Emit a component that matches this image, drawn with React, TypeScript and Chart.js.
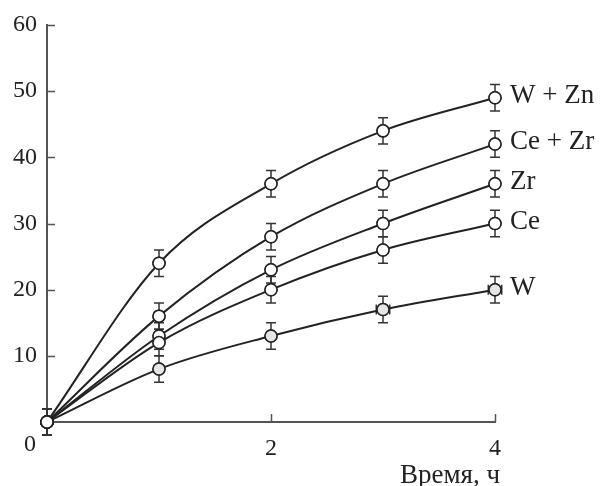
import React, { useEffect, useRef } from "react";
import { Chart, registerables } from "chart.js";

Chart.register(...registerables);

const xValues = [0, 1, 2, 3, 4];
const seriesNames = ["W + Zn", "Ce + Zr", "Zr", "Ce", "W"];
const wZn = [0, 24, 36, 44, 49];
const ceZr = [0, 16, 28, 36, 42];
const zr = [0, 13, 23, 30, 36];
const ce = [0, 12, 20, 26, 30];
const w = [0, 8, 13, 17, 20];
const errWZn = [2, 2, 2, 2, 2];
const errCeZr = [2, 2, 2, 2, 2];
const errZr = [2, 2, 2, 2, 2];
const errCe = [2, 2, 2, 2, 2];
const errW = [2, 2, 2, 2, 2];
const xErrW = [0, 0, 0, 0.06, 0.06];
const noXErr = [0, 0, 0, 0, 0];
const yTicks = [10, 20, 30, 40, 50, 60];
const xTicks = [2, 4];
const xTitle = "Время, ч";
const originLabel = "0";

const FONT = '"Liberation Serif", "Times New Roman", serif';
const INK = "#222";
const AXIS = "#555";

const seriesValues = [wZn, ceZr, zr, ce, w];
const seriesErr = [errWZn, errCeZr, errZr, errCe, errW];
const seriesXErr = [noXErr, noXErr, noXErr, noXErr, xErrW];
const seriesFill = ["#fff", "#fff", "#fff", "#fff", "#e6e6e6"];

const decorPlugin = {
  id: "decor",
  beforeDatasetsDraw(chart: any) {
    const ctx = chart.ctx;
    const xs = chart.scales.x;
    const ys = chart.scales.y;
    ctx.save();
    ctx.strokeStyle = "#333";
    ctx.lineWidth = 1.5;
    seriesValues.forEach((vals, si) => {
      vals.forEach((v, i) => {
        const px = xs.getPixelForValue(xValues[i]);
        const e = seriesErr[si][i];
        const top = ys.getPixelForValue(v + e);
        const bot = ys.getPixelForValue(v - e);
        ctx.beginPath();
        ctx.moveTo(px, top);
        ctx.lineTo(px, bot);
        ctx.moveTo(px - 5, top);
        ctx.lineTo(px + 5, top);
        ctx.moveTo(px - 5, bot);
        ctx.lineTo(px + 5, bot);
        const xe = seriesXErr[si][i];
        if (xe > 0) {
          const py = ys.getPixelForValue(v);
          const l = xs.getPixelForValue(xValues[i] - xe);
          const r = xs.getPixelForValue(xValues[i] + xe);
          ctx.moveTo(l, py);
          ctx.lineTo(r, py);
          ctx.moveTo(l, py - 5);
          ctx.lineTo(l, py + 5);
          ctx.moveTo(r, py - 5);
          ctx.lineTo(r, py + 5);
        }
        ctx.stroke();
      });
    });
    ctx.restore();
  },
  afterDatasetsDraw(chart: any) {
    const ctx = chart.ctx;
    const area = chart.chartArea;
    chart.data.datasets.forEach((_: any, i: number) => {
      const meta = chart.getDatasetMeta(i);
      meta.data.forEach((pt: any) => pt.draw(ctx, area));
    });
  },
  afterDraw(chart: any) {
    const ctx = chart.ctx;
    const xs = chart.scales.x;
    const ys = chart.scales.y;
    const area = chart.chartArea;
    ctx.save();
    ctx.strokeStyle = AXIS;
    ctx.lineWidth = 1.5;
    ctx.beginPath();
    yTicks.forEach((t) => {
      const py = Math.round(ys.getPixelForValue(t)) + 0.5;
      ctx.moveTo(area.left, py);
      ctx.lineTo(area.left + 8, py);
    });
    xTicks.forEach((t) => {
      const px = Math.round(xs.getPixelForValue(t)) + 0.5;
      ctx.moveTo(px, area.bottom);
      ctx.lineTo(px, area.bottom - 8);
    });
    ctx.stroke();

    ctx.fillStyle = INK;
    ctx.font = `27px ${FONT}`;
    ctx.textAlign = "left";
    ctx.textBaseline = "middle";
    seriesValues.forEach((vals, si) => {
      const last = vals.length - 1;
      const px = xs.getPixelForValue(xValues[last]);
      const py = ys.getPixelForValue(vals[last]);
      ctx.fillText(seriesNames[si], px + 15, py - 2);
    });

    ctx.textAlign = "right";
    ctx.textBaseline = "alphabetic";
    ctx.fillText(xTitle, area.right + 5, area.bottom + 61);

    ctx.font = `24px ${FONT}`;
    ctx.textAlign = "center";
    ctx.textBaseline = "middle";
    ctx.fillText(originLabel, xs.getPixelForValue(0) - 17, area.bottom + 23);
    ctx.restore();
  },
};

export default function App() {
  const ref = useRef<HTMLCanvasElement | null>(null);
  useEffect(() => {
    document.body.style.margin = "0";
    const canvas = ref.current;
    if (!canvas) return;
    const datasets = seriesValues.map((vals, si) => ({
      label: seriesNames[si],
      data: vals.map((v, i) => ({ x: xValues[i], y: v })),
      borderColor: INK,
      borderWidth: 2,
      backgroundColor: seriesFill[si],
      pointBackgroundColor: (c: any) => (c.dataIndex === 0 ? "#ffffff" : seriesFill[si]),
      pointBorderColor: INK,
      pointBorderWidth: 1.5,
      pointRadius: 6,
      tension: 0.4,
      cubicInterpolationMode: "monotone" as const,
      fill: false,
      clip: false as any,
    }));
    const chart = new Chart(canvas, {
      type: "line",
      data: { datasets },
      options: {
        animation: false,
        responsive: false,
        events: [],
        layout: { padding: { top: 25, right: 106, left: 0, bottom: 0 } },
        plugins: { legend: { display: false }, tooltip: { enabled: false } },
        scales: {
          x: {
            type: "linear",
            min: 0,
            max: 4,
            afterFit: (s: any) => {
              s.height = 64;
            },
            afterBuildTicks: (s: any) => {
              s.ticks = [0, 2, 4].map((v) => ({ value: v }));
            },
            grid: { display: false, drawTicks: false },
            border: { display: true, color: AXIS, width: 2 },
            ticks: {
              color: INK,
              font: { family: FONT, size: 24 },
              padding: 12,
              maxRotation: 0,
              callback: (v: any) => (v === 0 ? "" : String(v)),
            },
          },
          y: {
            type: "linear",
            min: 0,
            max: 60,
            afterFit: (s: any) => {
              s.width = 47;
            },
            grid: { display: false, drawTicks: false },
            border: { display: true, color: AXIS, width: 2 },
            ticks: {
              stepSize: 10,
              color: INK,
              font: { family: FONT, size: 24 },
              padding: 10,
              callback: (v: any) => (v === 0 ? "" : String(v)),
            },
          },
        },
      },
      plugins: [decorPlugin],
    });
    return () => chart.destroy();
  }, []);
  return (
    <div style={{ width: 601, height: 486 }}>
      <canvas ref={ref} width={601} height={486} style={{ display: "block" }} />
    </div>
  );
}
